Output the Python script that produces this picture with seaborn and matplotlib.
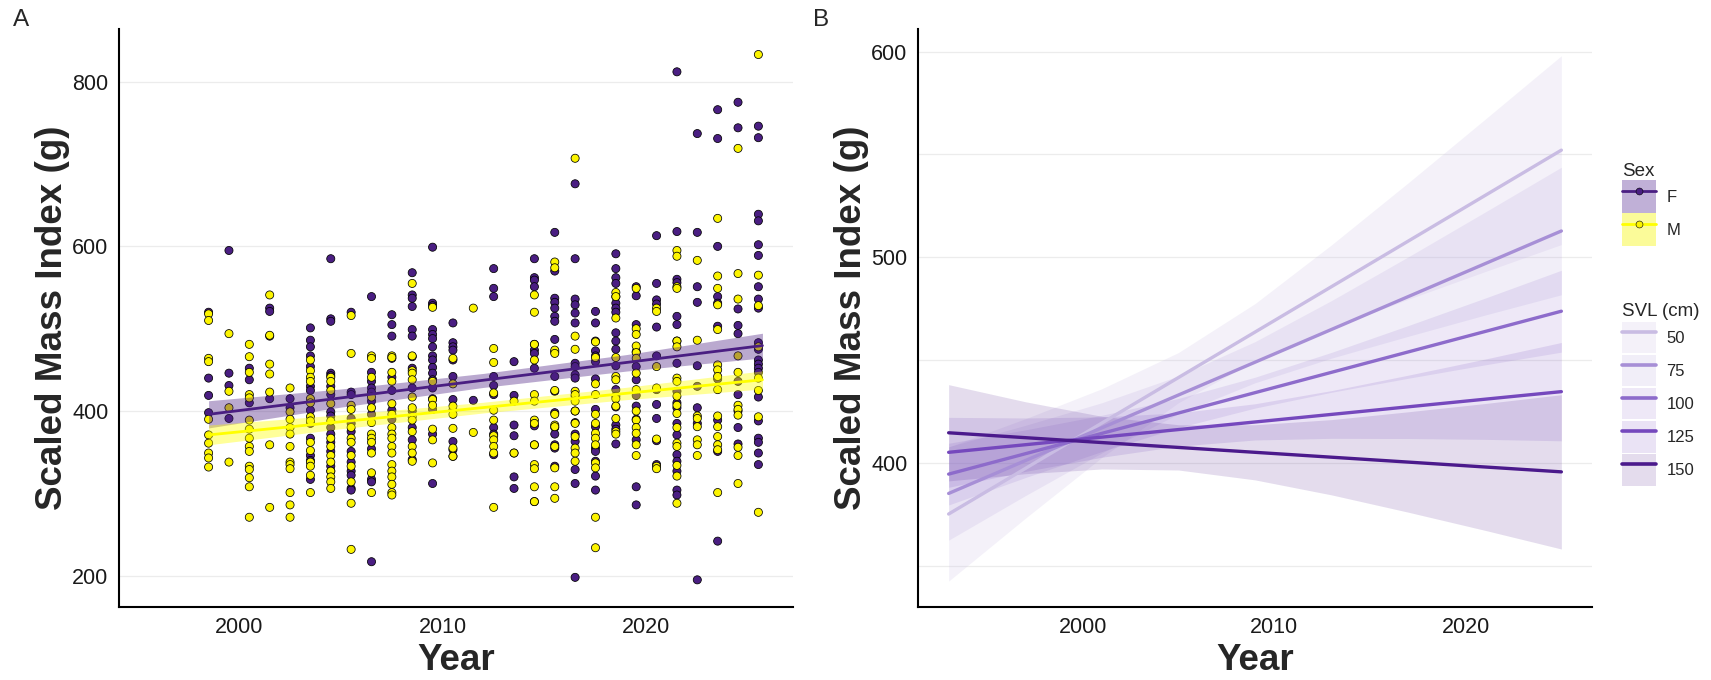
import pandas as pd
import seaborn as sns
import matplotlib.pyplot as plt
from matplotlib.lines import Line2D
from matplotlib.patches import Patch

# ---- Panel A: individual Scaled Mass Index values (g) per sampling year ----
female_smi = {
    1998.5: [520, 440, 419, 398],
    1999.5: [595, 446, 431, 391],
    2000.5: [452, 438, 410],
    2001.5: [525, 521, 491, 415],
    2002.5: [415, 404],
    2003.5: [501, 486, 478, 467, 454, 430, 425, 401, 385, 367, 346, 340, 317],
    2004.5: [585, 512, 509, 446, 443, 430, 420, 399, 394, 380, 372, 362, 351, 333, 327],
    2005.5: [520, 423, 420, 391, 385, 375, 351, 338, 327, 322, 306, 304],
    2006.5: [539, 447, 436, 428, 423, 412, 396, 354, 317, 314, 217],
    2007.5: [517, 505, 491, 464, 441, 425, 401, 390],
    2008.5: [568, 541, 537, 527, 499, 491, 466, 452, 428, 400, 380, 365, 341],
    2009.5: [599, 531, 528, 499, 493, 488, 478, 467, 462, 453, 446, 438, 428, 415, 402, 372, 312],
    2010.5: [507, 483, 478, 474, 462, 442, 414, 401, 363, 353, 345],
    2011.5: [413],
    2012.5: [573, 549, 539, 442, 431, 420, 380, 372, 347],
    2013.5: [460, 419, 383, 370, 349, 320, 306],
    2014.5: [585, 562, 559, 551, 481, 474, 470, 452, 382, 359, 290],
    2015.5: [617, 570, 537, 532, 525, 515, 509, 487, 472, 442, 424, 398, 380, 372, 359, 355, 333],
    2016.5: [676, 585, 536, 529, 519, 507, 458, 454, 444, 440, 418, 400, 386, 372, 363, 329, 312, 198],
    2017.5: [521, 507, 485, 473, 467, 460, 439, 402, 381, 355, 351, 339, 321, 304],
    2018.5: [591, 573, 562, 555, 539, 531, 525, 520, 495, 485, 475, 455, 426, 418, 405, 383, 378, 360],
    2019.5: [551, 540, 505, 472, 454, 438, 419, 406, 390, 365, 308, 286],
    2020.5: [613, 555, 535, 530, 502, 467, 426, 408, 391, 364, 335],
    2021.5: [812, 618, 560, 556, 515, 505, 485, 458, 424, 410, 404, 385, 371, 347, 339, 327, 304, 298],
    2022.5: [737, 617, 551, 532, 455, 430, 404, 385, 195],
    2023.5: [766, 731, 600, 539, 531, 503, 439, 389, 351, 242],
    2024.5: [775, 744, 524, 504, 494, 436, 420, 400, 380, 360],
    2025.5: [746, 732, 639, 631, 602, 589, 551, 536, 525, 483, 475, 462, 457, 452, 447,
             417, 388, 367, 362, 349, 335],
}
male_smi = {
    1998.5: [518, 510, 464, 460, 390, 371, 361, 349, 343, 332],
    1999.5: [494, 424, 404, 338],
    2000.5: [481, 466, 447, 420, 416, 389, 378, 367, 357, 351, 333, 329, 319, 308, 271],
    2001.5: [541, 492, 457, 445, 423, 359, 283],
    2002.5: [428, 399, 390, 380, 372, 357, 338, 335, 330, 301, 286, 271],
    2003.5: [462, 449, 441, 436, 415, 410, 393, 388, 362, 352, 338, 333, 322, 301],
    2004.5: [441, 436, 425, 409, 388, 367, 357, 346, 338, 327, 320, 314, 306],
    2005.5: [516, 470, 407, 402, 380, 367, 362, 346, 333, 314, 288, 232],
    2006.5: [467, 464, 441, 417, 404, 386, 372, 367, 362, 349, 325, 301],
    2007.5: [467, 465, 447, 436, 409, 396, 380, 372, 367, 357, 349, 335, 327, 320, 311, 301, 298],
    2008.5: [555, 467, 449, 446, 438, 417, 404, 393, 389, 375, 357, 349, 339],
    2009.5: [526, 436, 414, 407, 378, 365, 337],
    2010.5: [464, 433, 406, 396, 379, 355, 345],
    2011.5: [525, 374],
    2012.5: [476, 459, 422, 401, 389, 370, 365, 357, 349, 283],
    2013.5: [412, 349],
    2014.5: [541, 520, 481, 462, 420, 412, 389, 385, 359, 335, 330, 308, 290],
    2015.5: [581, 574, 474, 470, 425, 396, 383, 381, 357, 331, 308, 294],
    2016.5: [707, 491, 475, 424, 420, 412, 400, 385, 369, 355, 349, 339],
    2017.5: [484, 465, 433, 420, 396, 385, 373, 367, 359, 337, 331, 271, 234],
    2018.5: [544, 539, 513, 465, 442, 438, 415, 406, 391, 375, 372],
    2019.5: [549, 500, 493, 479, 471, 464, 446, 426, 400, 389, 380, 373, 359, 346],
    2020.5: [525, 521, 454, 428, 366, 333, 330],
    2021.5: [595, 588, 551, 549, 485, 478, 440, 436, 418, 407, 397, 380, 361, 357, 334, 321, 288],
    2022.5: [583, 486, 394, 391, 381, 365, 359, 346],
    2023.5: [634, 564, 549, 529, 499, 456, 450, 442, 426, 394, 381, 369, 359, 353, 301],
    2024.5: [719, 567, 536, 467, 447, 407, 402, 395, 356, 346, 312],
    2025.5: [833, 565, 528, 478, 440, 425, 393, 277],
}

# fitted trend per sex and its confidence band
fit_years = [1998.5, 2025.7]
fit_f = [396, 479.5]
fit_m = [371, 438]
band_years_a = [1998.5, 2005, 2012, 2019, 2025.7]
band_f_low = [379.5, 404.8, 428.7, 448.5, 464.5]
band_f_high = [412.5, 426.8, 445.7, 468.5, 494.5]
band_m_low = [359, 378.5, 397.7, 413.8, 426.8]
band_m_high = [383, 395.5, 410.7, 428.8, 448.8]

# ---- Panel B: predicted SMI by SVL (cm) ----
svl_levels = [50, 75, 100, 125, 150]
pred_years = [1993, 2025]
pred_smi = {
    50: [375.2, 552.1],
    75: [385.2, 512.8],
    100: [394.6, 473.8],
    125: [405.2, 434.7],
    150: [414.7, 395.7],
}
band_years_b = [1993, 1997, 2001, 2005, 2009, 2013, 2017, 2021, 2025]
band_low_b = {
    50: [342.6, 373.1, 402.7, 429.3, 449.7, 465.5, 479.6, 493.0, 506.2],
    75: [362.5, 384.1, 404.9, 423.9, 439.0, 451.0, 461.6, 471.9, 481.8],
    100: [379.6, 392.9, 405.6, 417.2, 426.7, 434.4, 441.2, 447.7, 453.9],
    125: [388.2, 395.9, 402.8, 408.2, 411.2, 412.0, 411.9, 411.5, 410.8],
    150: [391.3, 394.8, 397.1, 396.6, 391.8, 384.5, 376.1, 367.3, 358.2],
}
band_high_b = {
    50: [407.8, 421.5, 436.1, 453.7, 477.5, 506.1, 536.2, 567.0, 598.0],
    75: [407.9, 418.3, 429.3, 442.3, 459.0, 479.0, 500.2, 521.9, 543.8],
    100: [409.6, 416.1, 423.2, 431.4, 441.7, 453.8, 466.8, 480.1, 493.7],
    125: [422.2, 421.9, 422.4, 424.4, 428.8, 435.2, 442.7, 450.5, 458.6],
    150: [438.1, 429.8, 422.7, 418.6, 418.6, 421.1, 424.9, 428.9, 433.2],
}

F_COL = '#4a1e82'
M_COL = '#fcf400'
svl_colors = ['#c9bce3', '#a78fd6', '#8d6bcb', '#7548bd', '#4b1a8c']

sns.set_style('white')
plt.rcParams['font.family'] = ['Liberation Sans', 'DejaVu Sans']

fig = plt.figure(figsize=(17.11, 6.8), dpi=100)
ax_a = fig.add_axes([119 / 1711, 1 - 607 / 680, 674 / 1711, 578 / 680])
ax_b = fig.add_axes([918 / 1711, 1 - 607 / 680, 674 / 1711, 578 / 680])

# Panel A
pts = pd.DataFrame(
    [(yr, v, 'F') for yr, vals in female_smi.items() for v in vals]
    + [(yr, v, 'M') for yr, vals in male_smi.items() for v in vals],
    columns=['Year', 'SMI', 'Sex'])
sns.scatterplot(data=pts, x='Year', y='SMI', hue='Sex', hue_order=['F', 'M'],
                palette={'F': F_COL, 'M': M_COL}, s=34, edgecolor='black',
                linewidth=0.55, legend=False, ax=ax_a, zorder=2)

ax_a.fill_between(band_years_a, band_f_low, band_f_high, color=F_COL, alpha=0.38,
                  lw=0, zorder=3)
ax_a.fill_between(band_years_a, band_m_low, band_m_high, color='#ffff00', alpha=0.4,
                  lw=0, zorder=3)
fits = pd.DataFrame({'Year': fit_years * 2, 'SMI': fit_f + fit_m,
                     'Sex': ['F', 'F', 'M', 'M']})
sns.lineplot(data=fits, x='Year', y='SMI', hue='Sex', palette={'F': F_COL, 'M': '#ffff00'},
             linewidth=2.0, legend=False, ax=ax_a, zorder=4)

ax_a.set_xlim(1994.1, 2027.2)
ax_a.set_ylim(162, 864)
ax_a.set_xticks([2000, 2010, 2020])
ax_a.set_yticks([200, 400, 600, 800])

# Panel B
pred = pd.DataFrame([(yr, pred_smi[s][i], s) for s in svl_levels
                     for i, yr in enumerate(pred_years)],
                    columns=['Year', 'SMI', 'SVL'])
for s, c in zip(svl_levels, svl_colors):
    ax_b.fill_between(band_years_b, band_low_b[s], band_high_b[s], color=c,
                      alpha=0.15 if s != 50 else 0.2, lw=0, zorder=1)
sns.lineplot(data=pred, x='Year', y='SMI', hue='SVL', hue_order=svl_levels,
             palette=dict(zip(svl_levels, svl_colors)), linewidth=2.4,
             legend=False, ax=ax_b, zorder=3)
ax_b.set_xlim(1991.4, 2026.6)
ax_b.set_ylim(330, 611)
ax_b.set_xticks([2000, 2010, 2020])
ax_b.set_yticks([400, 500, 600])
ax_b.set_yticks([350, 450, 550], minor=True)

for ax in (ax_a, ax_b):
    ax.set_axisbelow(True)
    ax.yaxis.grid(True, which='both', color='#ececec', lw=0.9)
    ax.xaxis.grid(False)
    for side in ('top', 'right'):
        ax.spines[side].set_visible(False)
    for side in ('left', 'bottom'):
        ax.spines[side].set_color('black')
        ax.spines[side].set_linewidth(1.5)
    ax.tick_params(axis='both', which='both', length=0, labelsize=15.5,
                   labelcolor='#1a1a1a', pad=7.5)
    ax.set_xlabel('Year', fontsize=26.5, fontweight='bold', va='center')
    ax.set_ylabel('Scaled Mass Index (g)', fontsize=26.5, fontweight='bold', va='center')
    ax.xaxis.set_label_coords(0.5, -0.092)
    ax.yaxis.set_label_coords(-0.099, 0.5)

fig.text(21 / 1711, 1 - 20 / 680, 'A', fontsize=17.5, ha='center', va='center')
fig.text(821 / 1711, 1 - 20 / 680, 'B', fontsize=17.5, ha='center', va='center')

# Legends
sex_handles = [
    (Patch(facecolor='#c0b0d7', edgecolor='none'),
     Line2D([], [], color=F_COL, lw=2, marker='o', markersize=5,
            markerfacecolor=F_COL, markeredgecolor='black', markeredgewidth=0.4)),
    (Patch(facecolor='#fbfb99', edgecolor='none'),
     Line2D([], [], color='#ffff00', lw=2, marker='o', markersize=5,
            markerfacecolor=M_COL, markeredgecolor='black', markeredgewidth=0.4)),
]
fig.legend(sex_handles, ['F', 'M'], title='Sex', loc='upper left',
           bbox_to_anchor=(1614 / 1711, 1 - 155 / 680), frameon=False,
           fontsize=12, title_fontsize=13.5, handlelength=2.04, handleheight=2.67,
           handletextpad=0.6, labelspacing=0.0, borderpad=0, alignment='left')
svl_handles = [
    (Patch(facecolor=c, alpha=0.15 if s != 50 else 0.2, edgecolor='none'),
     Line2D([], [], color=c, lw=2.6))
    for s, c in zip(svl_levels, svl_colors)
]
fig.legend(svl_handles, [str(s) for s in svl_levels], title='SVL (cm)',
           loc='upper left', bbox_to_anchor=(1614 / 1711, 1 - 295 / 680),
           frameon=False, fontsize=12, title_fontsize=13.5, handlelength=2.04,
           handleheight=2.55, handletextpad=0.6, labelspacing=0.08, borderpad=0,
           alignment='left')

fig.savefig('out.png', dpi=100)
